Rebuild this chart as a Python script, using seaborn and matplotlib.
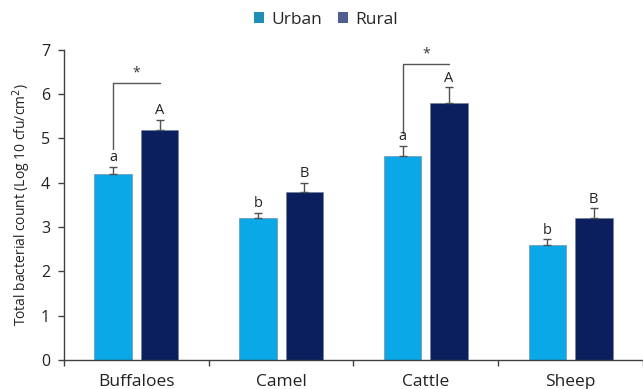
import matplotlib
matplotlib.use("Agg")
import matplotlib.pyplot as plt
import seaborn as sns
import pandas as pd
import numpy as np
from matplotlib.patches import Patch
from matplotlib.ticker import FixedLocator

categories = ["Buffaloes", "Camel", "Cattle", "Sheep"]
urban = [4.2, 3.2, 4.6, 2.6]
rural = [5.2, 3.8, 5.8, 3.2]
urban_err = [0.15, 0.12, 0.23, 0.12]
rural_err = [0.22, 0.2, 0.35, 0.22]
urban_letters = ["a", "b", "a", "b"]
rural_letters = ["A", "B", "A", "B"]
series = ["Urban", "Rural"]
sig_groups = ["Buffaloes", "Cattle"]
sig_bracket_top = [6.25, 6.68]
sig_bracket_bottom = [4.75, 5.12]
y_label = "Total bacterial count (Log 10 cfu/cm$^2$)"

sns.set_style("white")
plt.rcParams["font.family"] = ["Open Sans", "DejaVu Sans"]

df = pd.DataFrame({
    "cat": categories * 2,
    "val": urban + rural,
    "series": ["Urban"] * 4 + ["Rural"] * 4,
})

fig = plt.figure(figsize=(6.43, 3.89), dpi=100)
ax = fig.add_axes([0.0995, 0.075, 0.9005, 0.797])

c_urban = "#0AA8E6"
c_rural = "#0B1F5E"
sns.barplot(data=df, x="cat", y="val", hue="series", hue_order=series,
            order=categories, palette=[c_urban, c_rural], width=0.64, gap=0.19,
            errorbar=None, legend=False, ax=ax, saturation=1)

for p in ax.patches:
    p.set_edgecolor("#6f7f9a")
    p.set_linewidth(0.4)

bars = ax.patches
ux = [b.get_x() + b.get_width() / 2 for b in bars[:4]]
rx = [b.get_x() + b.get_width() / 2 for b in bars[4:8]]

ax.errorbar(ux, urban, yerr=[np.zeros(4), urban_err], fmt="none",
            ecolor="#505050", elinewidth=1, capsize=3, capthick=1)
ax.errorbar(rx, rural, yerr=[np.zeros(4), rural_err], fmt="none",
            ecolor="#505050", elinewidth=1, capsize=3, capthick=1)

for x, v, e, t in zip(ux, urban, urban_err, urban_letters):
    ax.text(x, v + e + 0.04, t, ha="center", va="bottom", fontsize=10.5, color="#222222")
for x, v, e, t in zip(rx, rural, rural_err, rural_letters):
    ax.text(x, v + e + 0.04, t, ha="center", va="bottom", fontsize=10.5, color="#222222")

for g, top, bot in zip(sig_groups, sig_bracket_top, sig_bracket_bottom):
    i = categories.index(g)
    ax.plot([ux[i], ux[i], rx[i]], [bot, top, top], color="#555555", lw=1, clip_on=False)
    ax.text((ux[i] + rx[i]) / 2, top + 0.06, "*", ha="center", va="bottom",
            fontsize=10, color="#333333")

ax.set_ylim(0, 7)
ax.set_xlim(-0.5, 3.5)
ax.set_yticks(range(0, 8))
ax.set_xlabel("")
ax.set_ylabel(y_label, fontsize=10, color="#222222", labelpad=6)
ax.tick_params(axis="y", direction="out", length=4, width=1, color="#404040",
               labelsize=11.5, labelcolor="#222222", left=True, pad=6)
ax.tick_params(axis="x", which="major", length=0, labelsize=12.5,
               labelcolor="#222222", pad=10)
ax.xaxis.set_minor_locator(FixedLocator([-0.5, 0.5, 1.5, 2.5, 3.5]))
ax.tick_params(axis="x", which="minor", direction="out", length=4, width=1,
               color="#404040", bottom=True)

sns.despine(ax=ax, top=True, right=True)
for s in ["left", "bottom"]:
    ax.spines[s].set_color("#404040")
    ax.spines[s].set_linewidth(1)

handles = [Patch(facecolor="#1E90B8", edgecolor="none", label="Urban"),
           Patch(facecolor="#4E5E8E", edgecolor="none", label="Rural")]
fig.legend(handles=handles, loc="center", bbox_to_anchor=(0.507, 0.949), ncol=2,
           frameon=False, fontsize=12.5, handlelength=0.6, handleheight=0.6,
           handletextpad=0.4, columnspacing=0.9)

fig.savefig("out.png", dpi=100)
